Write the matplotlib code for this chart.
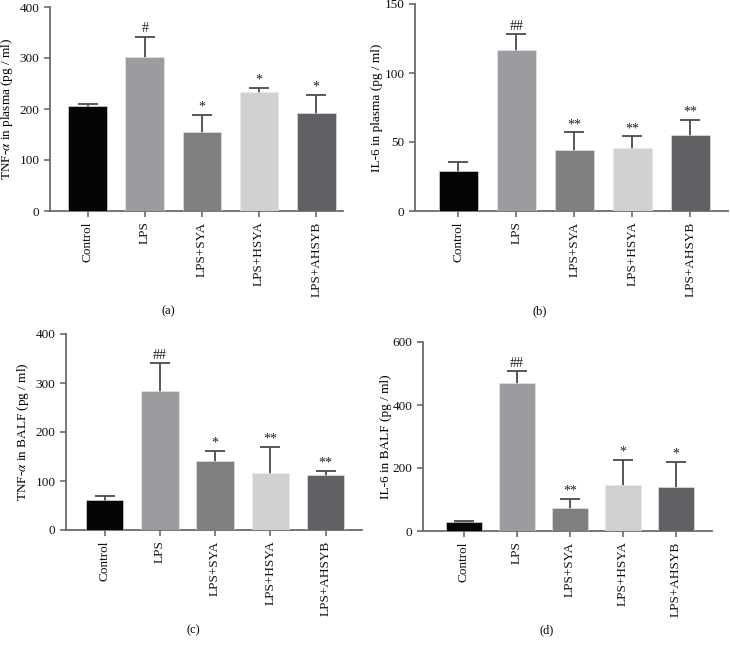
import matplotlib
matplotlib.use('Agg')
import matplotlib.pyplot as plt

plt.rcParams['font.family'] = ['Liberation Serif', 'DejaVu Serif']
plt.rcParams['mathtext.fontset'] = 'stix'

groups = ['Control', 'LPS', 'LPS+SYA', 'LPS+HSYA', 'LPS+AHSYB']
colors = ['#050505', '#9b9ca0', '#7f7f80', '#d0d1d0', '#606164']

# (a) TNF-alpha in plasma
a_vals = [206, 302, 154, 233, 192]
a_err = [4.5, 40, 34, 8.5, 35]
a_sig = ['', '#', '*', '*', '*']
# (b) IL-6 in plasma
b_vals = [28.8, 116.4, 44.5, 46, 54.9]
b_err = [7, 11.8, 12.4, 8, 11.1]
b_sig = ['', '##', '**', '**', '**']
# (c) TNF-alpha in BALF
c_vals = [62, 283, 140, 117, 113]
c_err = [6.5, 57, 21.5, 52.5, 7.5]
c_sig = ['', '##', '*', '**', '**']
# (d) IL-6 in BALF
d_vals = [29.6, 469, 73, 146, 140]
d_err = [3.2, 39, 28.6, 79, 80]
d_sig = ['', '##', '**', '*', '*']

W, H = 730, 648
fig = plt.figure(figsize=(W / 100, H / 100), dpi=100)

axcol = '#6a6a6a'


def panel(box, vals, err, sig, ylim, yticks, ylabel, labx, xlim, tag, tagpos):
    left, right, top, bottom = box
    ax = fig.add_axes([left / W, 1 - bottom / H, (right - left) / W, (bottom - top) / H])
    x = list(range(len(groups)))
    ax.bar(x, vals, width=0.68, color=colors, edgecolor='#e8e8e8', linewidth=0.4, zorder=3)
    ax.errorbar(x, vals, yerr=err, fmt='none', ecolor='#4a4a4a',
                elinewidth=1.3, capsize=7, capthick=1.3, zorder=2)
    for xi, v, e, s in zip(x, vals, err, sig):
        if s:
            ax.annotate(s, (xi, v + e), xytext=(0, 1), textcoords='offset points',
                        ha='center', va='bottom', fontsize=10, color='#222222')
    ax.set_xlim(*xlim)
    ax.set_ylim(*ylim)
    ax.set_yticks(yticks)
    ax.set_xticks(x)
    ax.set_xticklabels(groups, rotation=90, fontsize=9.5)
    ax.set_ylabel(ylabel, fontsize=9.5)
    # labx is the right edge of the rotated label, in pixels
    ax.yaxis.set_label_coords((labx - left) / (right - left), 0.5)
    for sp in ['top', 'right']:
        ax.spines[sp].set_visible(False)
    for sp in ['left', 'bottom']:
        ax.spines[sp].set_color(axcol)
        ax.spines[sp].set_linewidth(1.3)
    ax.tick_params(axis='both', colors=axcol, width=1.2, length=4, direction='out')
    ax.tick_params(axis='y', labelsize=9.5, labelcolor='#111111')
    ax.tick_params(axis='x', labelcolor='#111111')
    fig.text(tagpos[0] / W, 1 - tagpos[1] / H, tag, ha='center', va='center', fontsize=9)
    return ax


panel((50, 343, 7, 211), a_vals, a_err, a_sig, (0, 400), [0, 100, 200, 300, 400],
      r'TNF-$\alpha$ in plasma (pg / ml)', 15, (-0.66, 4.47), '(a)', (168, 311))
panel((415, 728, 4, 211), b_vals, b_err, b_sig, (0, 150), [0, 50, 100, 150],
      'IL-6 in plasma (pg / ml)', 383, (-0.75, 4.65), '(b)', (540, 311))
panel((66, 362, 334, 530), c_vals, c_err, c_sig, (0, 400), [0, 100, 200, 300, 400],
      r'TNF-$\alpha$ in BALF (pg / ml)', 31, (-0.70, 4.66), '(c)', (193, 630))
panel((423, 712, 342, 531), d_vals, d_err, d_sig, (0, 600), [0, 200, 400, 600],
      'IL-6 in BALF (pg / ml)', 392, (-0.77, 4.68), '(d)', (547, 630))

fig.savefig('out.png', dpi=100, facecolor='white')
